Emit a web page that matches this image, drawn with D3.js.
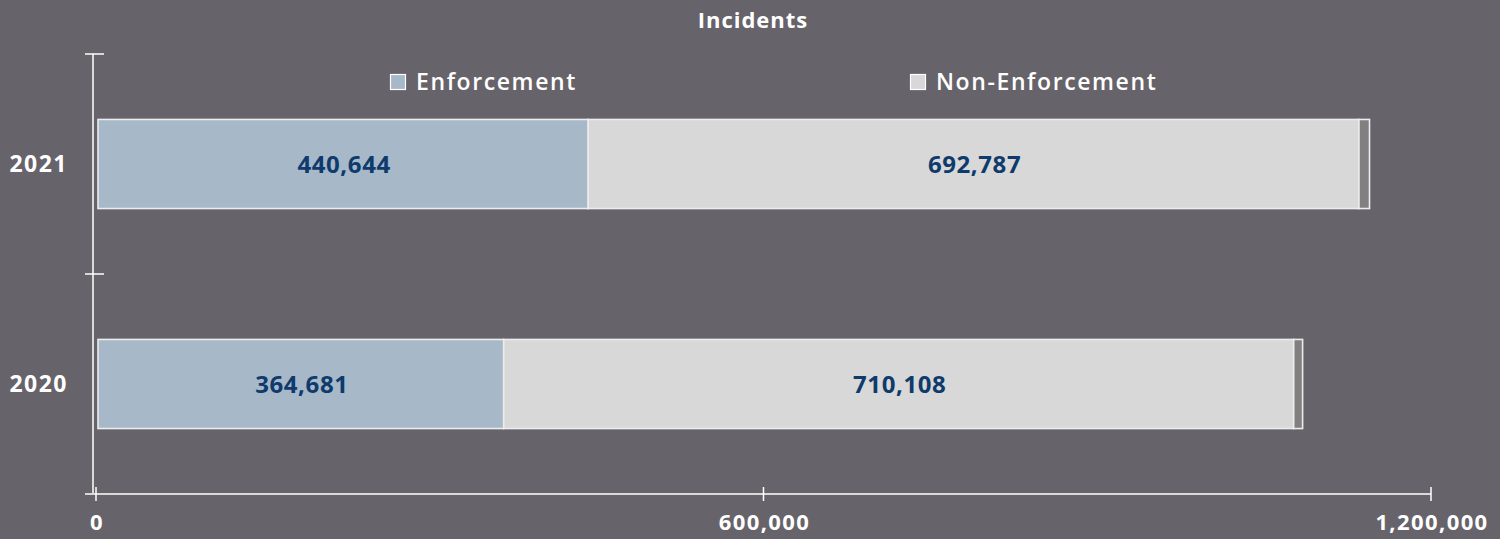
<!DOCTYPE html>
<html>
<head>
<meta charset="utf-8">
<script src="https://cdn.jsdelivr.net/npm/d3@7/dist/d3.min.js"></script>
<style>
  html, body { margin: 0; padding: 0; background: #67636a; }
  svg { display: block; }
  text { font-family: "Open Sans", "DejaVu Sans", sans-serif; }
</style>
</head>
<body>
<svg id="chart" width="1500" height="539"></svg>
<script>
const title = "Incidents";
const categories = ["2021", "2020"];
const seriesNames = ["Enforcement", "Non-Enforcement", "Other"];
const enforcement = [440644, 364681];
const nonEnforcement = [692787, 710108];
const other = [9500, 8000];
const xTicks = [0, 600000, 1200000];
const legendNames = ["Enforcement", "Non-Enforcement"];

const colors = { "Enforcement": "#a7b8c9", "Non-Enforcement": "#d8d8d8", "Other": "#808080" };

const svg = d3.select("#chart");

const x = d3.scaleLinear().domain([0, 1200000]).range([96, 1431]);
const y = d3.scaleBand().domain(categories).range([54, 494]).paddingInner(0.595).paddingOuter(0.2975);

// title
svg.append("text").attr("x", 753).attr("y", 28).attr("text-anchor", "middle")
  .attr("fill", "#ffffff").attr("font-weight", 700).attr("font-size", 22).attr("letter-spacing", 1)
  .text(title);

// legend
const legendX = [390, 910];
legendNames.forEach((n, i) => {
  const g = svg.append("g").attr("transform", `translate(${legendX[i]},74)`);
  g.append("rect").attr("x", 0.5).attr("y", 0.5).attr("width", 15).attr("height", 15)
    .attr("fill", colors[n]).attr("stroke", "#ffffff").attr("stroke-width", 1.2);
  g.append("text").attr("x", 26).attr("y", 16).attr("fill", "#ffffff")
    .attr("font-weight", 600).attr("font-size", 23).attr("letter-spacing", 1.6).text(n);
});

// stacked data
const rows = categories.map((c, i) => ({ cat: c, "Enforcement": enforcement[i], "Non-Enforcement": nonEnforcement[i], "Other": other[i] }));
const stack = d3.stack().keys(seriesNames)(rows);

const bars = svg.append("g");
stack.forEach(layer => {
  bars.selectAll(null).data(layer).enter().append("rect")
    .attr("x", d => x(d[0]) + 2)
    .attr("y", d => y(d.data.cat))
    .attr("width", d => x(d[1]) - x(d[0]))
    .attr("height", y.bandwidth())
    .attr("fill", colors[layer.key])
    .attr("stroke", "#ececec").attr("stroke-width", 1.6);
});

// data labels
stack.slice(0, 2).forEach(layer => {
  svg.append("g").selectAll("text").data(layer).enter().append("text")
    .attr("x", d => (x(d[0]) + x(d[1])) / 2 + 3)
    .attr("y", d => y(d.data.cat) + y.bandwidth() / 2 + 9)
    .attr("text-anchor", "middle")
    .attr("fill", "#0e3a6c").attr("font-weight", 700).attr("font-size", 24).attr("letter-spacing", 0.6)
    .text(d => d3.format(",")(d.data[layer.key]));
});

// y axis
const yAxisX = 93;
svg.append("line").attr("x1", yAxisX).attr("x2", yAxisX).attr("y1", 54).attr("y2", 494)
  .attr("stroke", "#d9d9d9").attr("stroke-width", 2);
const yBounds = [54, ...categories.map(c => y(c) + y.bandwidth() + y.step() * y.paddingInner() / 2)].slice(0, categories.length);
yBounds.forEach(v => {
  svg.append("line").attr("x1", 85).attr("x2", 104).attr("y1", v).attr("y2", v)
    .attr("stroke", "#ffffff").attr("stroke-width", 1.5);
});
categories.forEach(c => {
  svg.append("text").attr("x", 68).attr("y", y(c) + y.bandwidth() / 2 + 8)
    .attr("text-anchor", "end").attr("fill", "#ffffff")
    .attr("font-weight", 700).attr("font-size", 23).attr("letter-spacing", 1.5).text(c);
});

// x axis
const xAxisY = 494;
svg.append("line").attr("x1", 85).attr("x2", x(1200000)).attr("y1", xAxisY).attr("y2", xAxisY)
  .attr("stroke", "#d9d9d9").attr("stroke-width", 2);
xTicks.forEach(t => {
  svg.append("line").attr("x1", x(t)).attr("x2", x(t)).attr("y1", 487).attr("y2", 501)
    .attr("stroke", "#ffffff").attr("stroke-width", 1.5);
});
svg.append("g").selectAll("text").data(xTicks).enter().append("text")
  .attr("x", d => x(d) + 1).attr("y", 530).attr("text-anchor", "middle")
  .attr("fill", "#ffffff").attr("font-weight", 700).attr("font-size", 22).attr("letter-spacing", 1.4)
  .text(d => d3.format(",")(d));
</script>
</body>
</html>
